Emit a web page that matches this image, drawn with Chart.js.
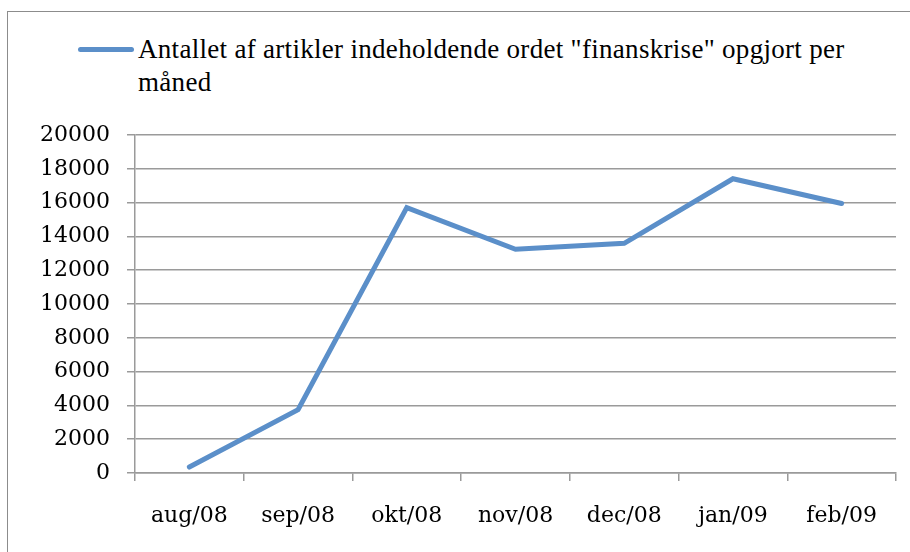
<!doctype html>
<html lang="da">
  <head>
    <meta charset="utf-8">
    <title>Finanskrise</title>
    <script src="https://cdn.jsdelivr.net/npm/chart.js"></script>
    <style>
      html, body { margin: 0; padding: 0; background: #fff; overflow: hidden; }
      #wrap { position: relative; width: 910px; height: 552px; }
      #frame {
        position: absolute; left: 7px; top: 11px; width: 960px; height: 600px;
        border: 1.5px solid #8c8c8c;
      }
      #legend { position: absolute; left: 0; top: 0; }
      #swatch {
        position: absolute; left: 78px; top: 47px; width: 56px; height: 5px;
        background: #5b8fc9; border-radius: 3px;
      }
      #legendText {
        position: absolute; left: 138px; top: 33px; width: 745px;
        font-family: "Liberation Serif", serif; font-size: 27px; letter-spacing: 0.3px;
        line-height: 33px; color: #000;
      }
      #chart { position: absolute; left: 0; top: 0; }
    </style>
  </head>
  <body>
    <div id="wrap">
      <div id="frame"></div>
      <div id="legend"><span id="swatch"></span><div id="legendText"></div></div>
      <canvas id="chart" width="910" height="552"></canvas>
    </div>

    <script>
      var months = ['aug/08', 'sep/08', 'okt/08', 'nov/08', 'dec/08', 'jan/09', 'feb/09'];
      var articleCounts = [350, 3750, 15700, 13240, 13590, 17410, 15950];
      var seriesLabel = 'Antallet af artikler indeholdende ordet "finanskrise" opgjort per måned';
      var yTicks = [0, 2000, 4000, 6000, 8000, 10000, 12000, 14000, 16000, 18000, 20000];

      document.getElementById('legendText').textContent = seriesLabel;

      var gridGray = '#9a9a9a';
      var tickFont = { family: '"DejaVu Serif", serif', size: 22 };

      var ctx = document.getElementById('chart').getContext('2d');
      var chart = new Chart(ctx, {
        type: 'line',
        data: {
          labels: months,
          datasets: [{
            label: seriesLabel,
            data: articleCounts,
            borderColor: '#5b8fc9',
            borderWidth: 5,
            borderCapStyle: 'round',
            borderJoinStyle: 'miter',
            pointRadius: 0,
            tension: 0,
            fill: false
          }]
        },
        options: {
          responsive: false,
          animation: false,
          layout: { padding: { top: 135, right: 14, left: 0, bottom: 0 } },
          plugins: {
            legend: { display: false },
            tooltip: { enabled: false }
          },
          scales: {
            x: {
              offset: true,
              grid: {
                offset: true,
                drawOnChartArea: false,
                drawTicks: true,
                tickLength: 8,
                color: gridGray,
                lineWidth: 1.5
              },
              border: { color: gridGray, width: 1.5 },
              ticks: { color: '#000', font: tickFont, padding: 22, maxRotation: 0 },
              afterFit: function (scale) { scale.height = 79; }
            },
            y: {
              min: 0,
              max: 20000,
              afterBuildTicks: function (scale) {
                scale.ticks = yTicks.map(function (v) { return { value: v }; });
              },
              grid: { color: gridGray, lineWidth: 1.5, tickLength: 8 },
              border: { color: gridGray, width: 1.5 },
              ticks: {
                color: '#000',
                font: tickFont,
                padding: 17,
                callback: function (value) { return String(value); }
              },
              afterFit: function (scale) { scale.width = 135; }
            }
          }
        }
      });
    </script>
  </body>
</html>
